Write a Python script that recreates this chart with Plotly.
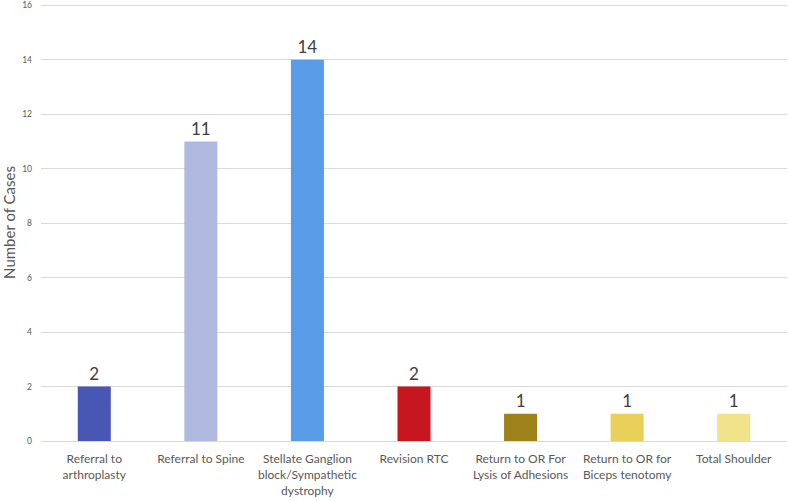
import plotly.graph_objects as go

# categories and counts
categories = [
    "Referral to<br>arthroplasty",
    "Referral to Spine",
    "Stellate Ganglion<br>block/Sympathetic<br>dystrophy",
    "Revision RTC",
    "Return to OR For<br>Lysis of Adhesions",
    "Return to OR for<br>Biceps tenotomy",
    "Total Shoulder",
]
cases = [2, 11, 14, 2, 1, 1, 1]
bar_colors = ["#4857B3", "#AFB9DF", "#5A9CE8", "#C8161E", "#A0821B", "#E8D05A", "#F1E38C"]

fig = go.Figure(go.Bar(
    x=categories,
    y=cases,
    marker=dict(color=bar_colors, line=dict(width=0)),
    width=0.31,
    text=cases,
    textposition="outside",
    textfont=dict(size=17, color="#404040"),
    cliponaxis=False,
))

fig.update_layout(
    width=789,
    height=501,
    margin=dict(l=41, r=2, t=4, b=60),
    plot_bgcolor="white",
    paper_bgcolor="white",
    font=dict(family="Lato, Open Sans, sans-serif", color="#595959"),
    showlegend=False,
)

fig.update_yaxes(
    range=[0, 16.05],
    tickvals=[0, 2, 4, 6, 8, 10, 12, 14, 16],
    showgrid=True,
    gridcolor="#D9D9D9",
    gridwidth=1,
    zeroline=False,
    showline=False,
    automargin=False,
    tickfont=dict(size=8.5, color="#595959"),
    ticks="",
    ticklabelstandoff=8,
    title=dict(text="Number of Cases", font=dict(size=15, color="#595959"), standoff=8),
)
fig.update_xaxes(
    showline=True,
    linecolor="#D9D9D9",
    linewidth=1,
    automargin=False,
    ticks="",
    ticklabelstandoff=7,
    tickfont=dict(size=12, color="#595959"),
    tickangle=0,
)

# page has a default 8px body margin; drop it so the figure sits at the corner
fig.write_html("out.html", config={"displayModeBar": False},
               post_script="document.body.style.margin='0';")
